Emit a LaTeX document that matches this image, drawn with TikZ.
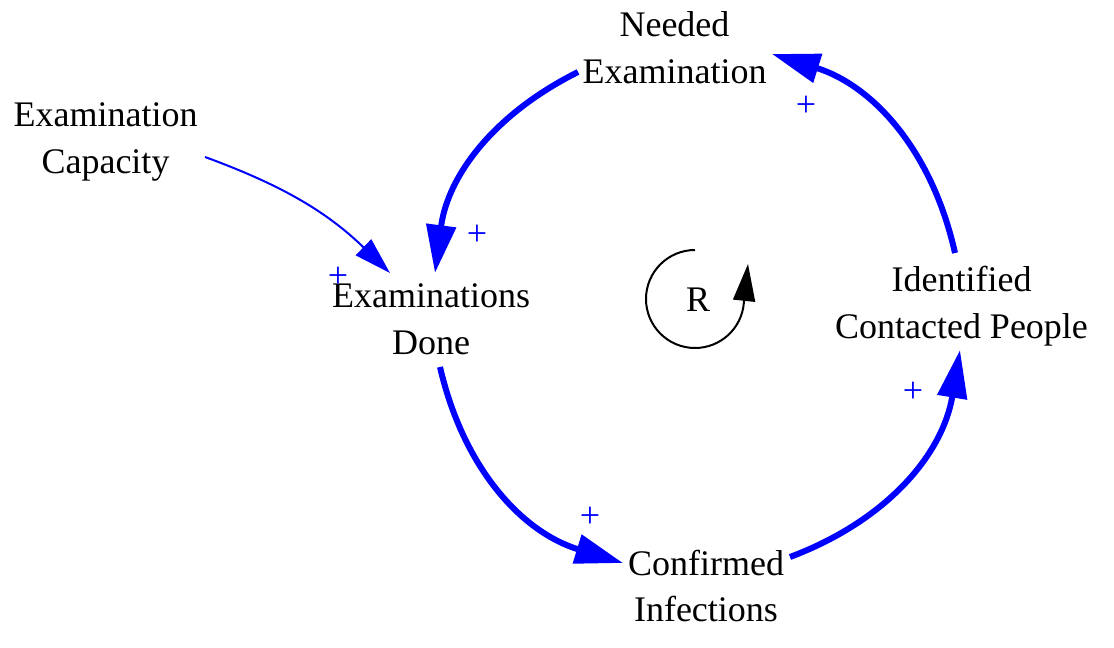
\documentclass[tikz,border=0pt]{standalone}
\usepackage{fontspec}
\setmainfont{Liberation Serif}
\usetikzlibrary{arrows.meta}
\begin{document}
\begin{tikzpicture}[x=1pt,y=1pt,
  var/.style={font=\fontsize{36}{47}\selectfont, align=center, anchor=base, inner sep=0pt, text=black},
  pol/.style={font=\fontsize{36}{36}\selectfont, text=blue, inner sep=0pt},
  link/.style={draw=blue, line width=6pt, -{Triangle[length=48pt,width=29pt]}},
  thinlink/.style={draw=blue, line width=2pt, -{Triangle[length=37pt,width=22pt]}},
  loopmark/.style={draw=black, line width=2pt, -{Triangle[length=37pt,width=22pt]}}]
\useasboundingbox (0,0) rectangle (1114,648);
\node[var] (need) at (674.5,564) {Needed\\Examination};
\node[var] (cap) at (105.5,474) {Examination\\Capacity};
\node[var] (done) at (431,293) {Examinations\\Done};
\node[var] (ident) at (961.5,309) {Identified\\Contacted People};
\node[var] (conf) at (706,26) {Confirmed\\Infections};
\node[font=\fontsize{36}{36}\selectfont, inner sep=0pt] (R) at (698,348) {R};
\node[pol] (p1) at (477,413) {+};
\node[pol] (p2) at (338,371) {+};
\node[pol] (p3) at (590,131) {+};
\node[pol] (p4) at (806,542) {+};
\node[pol] (p5) at (913,256) {+};
\draw[link] ([shift={(-96.5,12)}]need.base) to[bend right=28] ([shift={(4,82)}]done.base);
\draw[thinlink] ([shift={(99.5,17)}]cap.base) to[bend left=12] ([shift={(-41,82)}]done.base);
\draw[link] ([shift={(9,-12)}]done.base) to[bend right=30] ([shift={(-83,59)}]conf.base);
\draw[link] ([shift={(84,65)}]conf.base) to[bend right=30] ([shift={(-1.5,-11)}]ident.base);
\draw[link] ([shift={(-6.5,86)}]ident.base) to[bend right=30] ([shift={(97.5,30)}]need.base);
\draw[loopmark] ([shift={(-3,50)}]R.center) arc[start angle=90,end angle=355,radius=49] -- ([shift={(50,36)}]R.center);
\end{tikzpicture}
\end{document}
